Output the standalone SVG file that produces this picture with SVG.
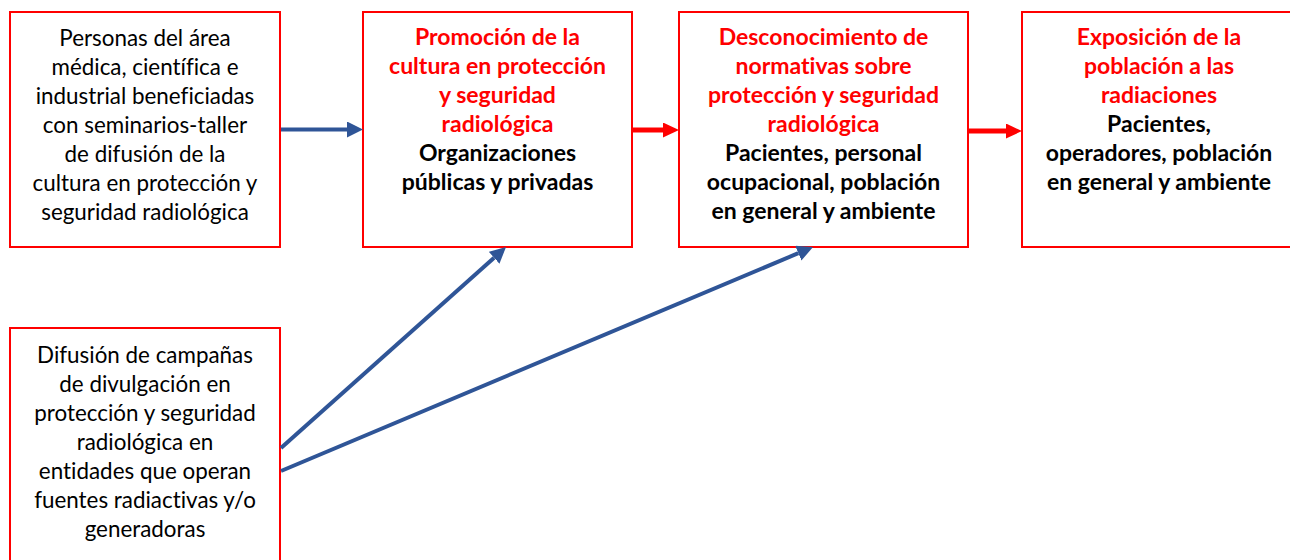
<svg xmlns="http://www.w3.org/2000/svg" width="1290" height="560" viewBox="0 0 1290 560">
<defs>
<style>
.box{fill:#fff;stroke:#ff0000;stroke-width:2}
text{font-family:Lato,"Open Sans","Noto Sans",sans-serif;font-size:22.4px;text-anchor:middle;font-variant-ligatures:none}
.n{fill:#000}
.r{fill:#ff0000;font-weight:bold;font-size:23px}
.b{fill:#000;font-weight:bold;font-size:23px}
.blue{stroke:#2f5597;stroke-width:4;fill:none}
.red{stroke:#ff0000;stroke-width:5;fill:none}
</style>
<marker id="ab" markerUnits="userSpaceOnUse" markerWidth="16" markerHeight="16" refX="0" refY="8" orient="auto" viewBox="0 0 16 16">
<path d="M0,0 L16,8 L0,16 Z" fill="#2f5597"/>
</marker>
<marker id="ar" markerUnits="userSpaceOnUse" markerWidth="16" markerHeight="15" refX="0" refY="7.5" orient="auto" viewBox="0 0 16 15">
<path d="M0,0 L16,7.5 L0,15 Z" fill="#ff0000"/>
</marker>
</defs>
<rect width="1290" height="560" fill="#fff"/>
<g id="n1">
<rect class="box" x="10" y="12" width="270" height="235"/>
<text class="n" x="145" y="46">Personas del área</text>
<text class="n" x="145" y="75">médica, científica e</text>
<text class="n" x="145" y="104">industrial beneficiadas</text>
<text class="n" x="145" y="133">con seminarios-taller</text>
<text class="n" x="145" y="162">de difusión de la</text>
<text class="n" x="145" y="191">cultura en protección y</text>
<text class="n" x="145" y="220">seguridad radiológica</text>
</g>
<g id="n2">
<rect class="box" x="363" y="12" width="269" height="235"/>
<text class="r" x="497.5" y="45">Promoción de la</text>
<text class="r" x="497.5" y="74">cultura en protección</text>
<text class="r" x="497.5" y="103">y seguridad</text>
<text class="r" x="497.5" y="132">radiológica</text>
<text class="b" x="497.5" y="161">Organizaciones</text>
<text class="b" x="497.5" y="190">públicas y privadas</text>
</g>
<g id="n3">
<rect class="box" x="679" y="12" width="289" height="235"/>
<text class="r" x="823.5" y="45">Desconocimiento de</text>
<text class="r" x="823.5" y="74">normativas sobre</text>
<text class="r" x="823.5" y="103">protección y seguridad</text>
<text class="r" x="823.5" y="132">radiológica</text>
<text class="b" x="823.5" y="161">Pacientes, personal</text>
<text class="b" x="823.5" y="190">ocupacional, población</text>
<text class="b" x="823.5" y="219">en general y ambiente</text>
</g>
<g id="n4">
<rect class="box" x="1022" y="12" width="290" height="235"/>
<text class="r" x="1159" y="45">Exposición de la</text>
<text class="r" x="1159" y="74">población a las</text>
<text class="r" x="1159" y="103">radiaciones</text>
<text class="b" x="1159" y="132">Pacientes,</text>
<text class="b" x="1159" y="161">operadores, población</text>
<text class="b" x="1159" y="190">en general y ambiente</text>
</g>
<g id="n5">
<rect class="box" x="10" y="328" width="270" height="260"/>
<text class="n" x="145" y="363">Difusión de campañas</text>
<text class="n" x="145" y="392">de divulgación en</text>
<text class="n" x="145" y="421">protección y seguridad</text>
<text class="n" x="145" y="450">radiológica en</text>
<text class="n" x="145" y="479">entidades que operan</text>
<text class="n" x="145" y="508">fuentes radiactivas y/o</text>
<text class="n" x="145" y="537">generadoras</text>
</g>
<g id="connectors">
<path class="blue" d="M281,129.5 L347,129.5" marker-end="url(#ab)"/>
<path class="red" d="M633,130 L663,130" marker-end="url(#ar)"/>
<path class="red" d="M969,131 L1006,131" marker-end="url(#ar)"/>
<path class="blue" d="M281,448 L494.1,257.7" marker-end="url(#ab)"/>
<path class="blue" d="M281,471 L798.3,253.2" marker-end="url(#ab)"/>
</g>
</svg>
